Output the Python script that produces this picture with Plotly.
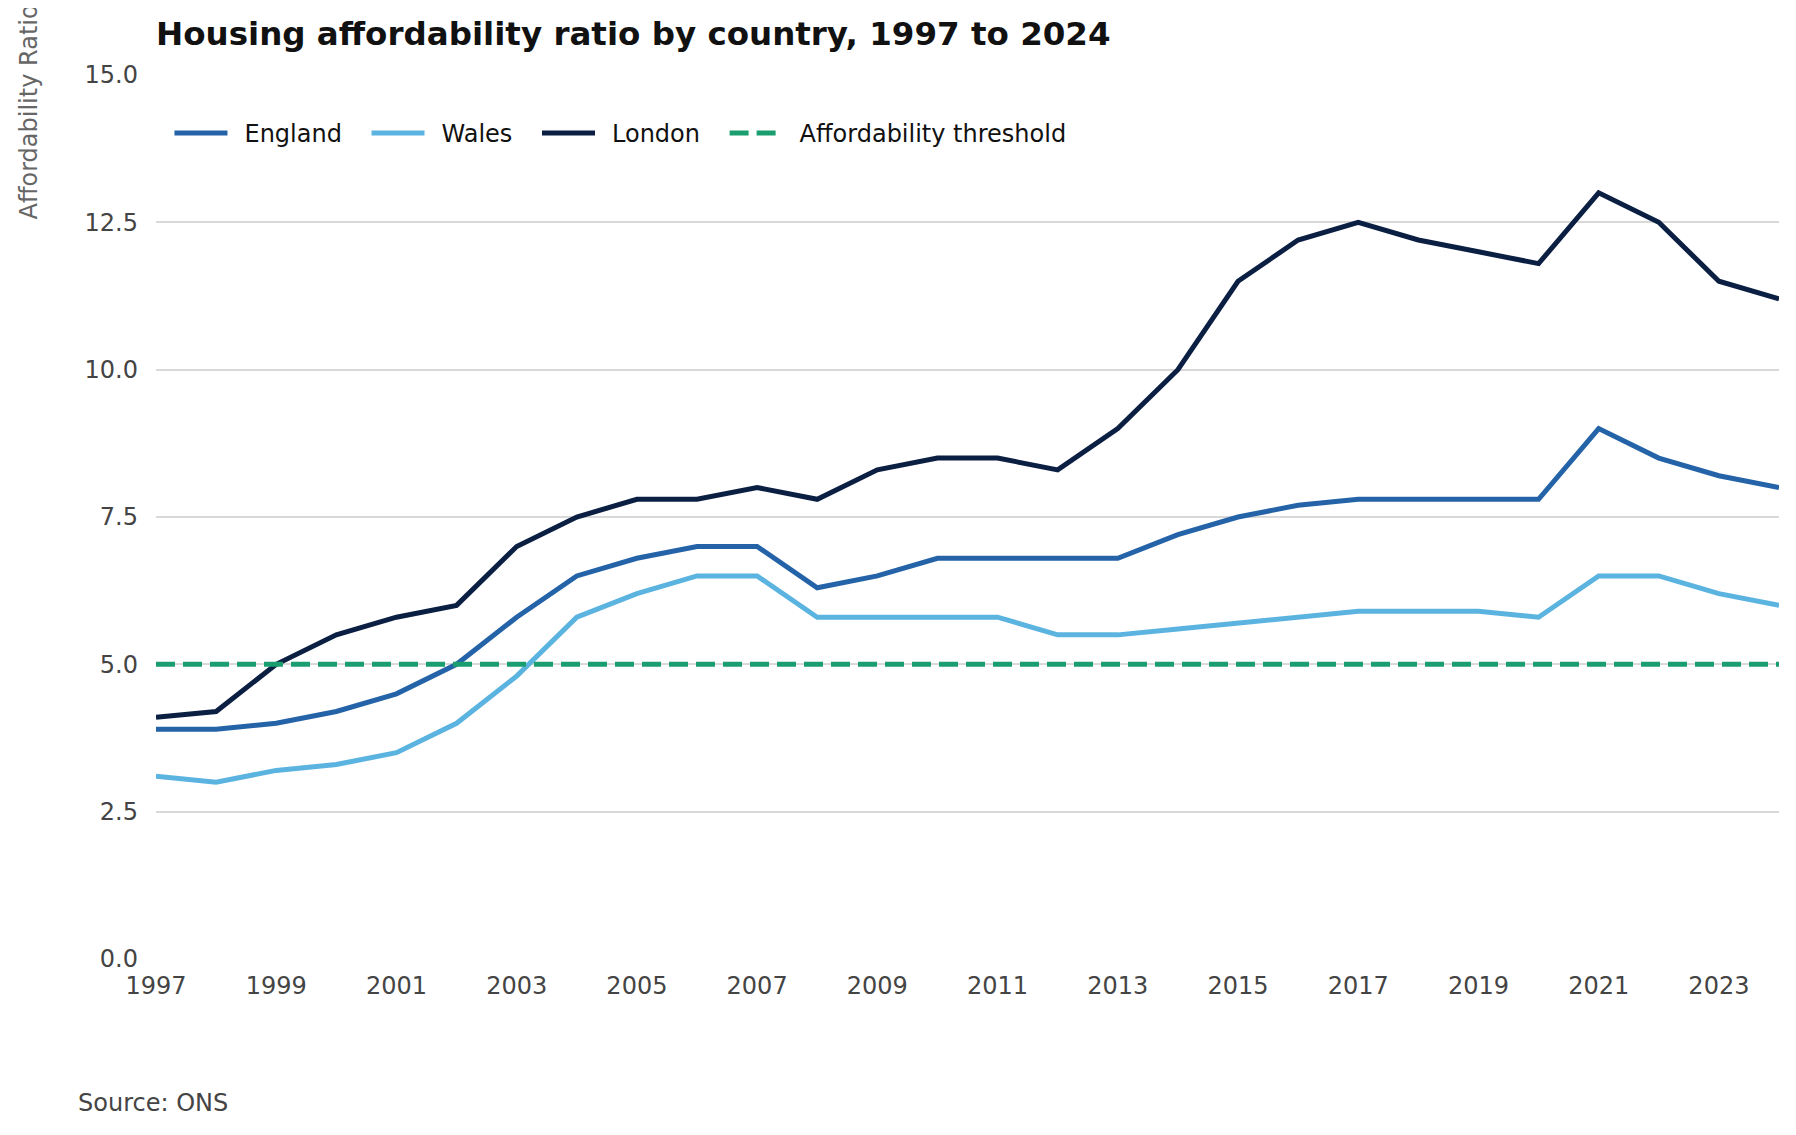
import plotly.graph_objects as go

years = list(range(1997, 2025))
england = [3.9, 3.9, 4.0, 4.2, 4.5, 5.0, 5.8, 6.5, 6.8, 7.0, 7.0, 6.3, 6.5, 6.8,
           6.8, 6.8, 6.8, 7.2, 7.5, 7.7, 7.8, 7.8, 7.8, 7.8, 9.0, 8.5, 8.2, 8.0]
wales = [3.1, 3.0, 3.2, 3.3, 3.5, 4.0, 4.8, 5.8, 6.2, 6.5, 6.5, 5.8, 5.8, 5.8,
         5.8, 5.5, 5.5, 5.6, 5.7, 5.8, 5.9, 5.9, 5.9, 5.8, 6.5, 6.5, 6.2, 6.0]
london = [4.1, 4.2, 5.0, 5.5, 5.8, 6.0, 7.0, 7.5, 7.8, 7.8, 8.0, 7.8, 8.3, 8.5,
          8.5, 8.3, 9.0, 10.0, 11.5, 12.2, 12.5, 12.2, 12.0, 11.8, 13.0, 12.5, 11.5, 11.2]
threshold = [5.0] * len(years)

series_names = ["England", "Wales", "London", "Affordability threshold"]
series_colors = ["#2563a8", "#5bb3e0", "#0b1f43", "#1a9e6f"]

title_text = "Housing affordability ratio by country, 1997 to 2024"
y_title = "Affordability Ratio"
source_text = "Source: ONS"
tick_years = list(range(1997, 2025, 2))
y_ticks = [0, 2.5, 5, 7.5, 10, 12.5, 15]

FONT = "DejaVu Sans"
W, H = 1796, 1135
ML, MR, MT, MB = 148, 25, 66.5, 184
PW, PH = W - ML - MR, H - MT - MB


def legend_label(name):
    # pad label so the spacing between key, text and next entry matches
    return "\u2002" + name + "\u2002\u00a0"


fig = go.Figure()
for name, vals, col in zip(series_names[:3], [england, wales, london], series_colors[:3]):
    fig.add_trace(go.Scatter(x=years, y=vals, mode="lines", name=legend_label(name),
                             line=dict(color=col, width=5)))
fig.add_trace(go.Scatter(x=years, y=threshold, mode="lines",
                         name=legend_label(series_names[3]),
                         line=dict(color=series_colors[3], width=5, dash="19px,8px")))

fig.update_layout(
    width=W, height=H,
    margin=dict(l=ML, r=MR, t=MT, b=MB),
    paper_bgcolor="white", plot_bgcolor="white",
    font=dict(family=FONT, size=24, color="#444444"),
    title=dict(text="<b>" + title_text + "</b>", x=ML / W, xanchor="left",
               y=1 - 26 / H, yanchor="middle",
               font=dict(family=FONT, size=32.5, color="#111111")),
    showlegend=True,
    legend=dict(orientation="h", x=0.0083, xanchor="left",
                y=1 - (125 - MT) / PH, yanchor="middle",
                font=dict(family=FONT, size=24, color="#111111"),
                bgcolor="rgba(0,0,0,0)", itemwidth=53),
    xaxis=dict(range=[1997, 2024], tickmode="array", tickvals=tick_years,
               ticktext=[str(t) for t in tick_years], showgrid=False, zeroline=False,
               showline=False, ticks="", ticklabelstandoff=10,
               tickfont=dict(size=24, color="#444444")),
    yaxis=dict(range=[0, 15], tickmode="array", tickvals=y_ticks,
               ticktext=[f"{t:.1f}" for t in y_ticks], showgrid=True,
               gridcolor="#d9d9d9", gridwidth=1.5, zeroline=False, showline=False,
               ticks="", ticklabelstandoff=17,
               tickfont=dict(size=24, color="#444444")),
    annotations=[
        dict(text=y_title, textangle=-90, xref="paper", yref="paper",
             x=-(ML - 20.5) / PW, xanchor="center", y=1 - (103.5 - MT) / PH,
             yanchor="middle", showarrow=False,
             font=dict(family=FONT, size=24, color="#666666")),
        dict(text=source_text, xref="paper", yref="paper", x=(68 - ML) / PW,
             xanchor="left", y=-(1095 - (H - MB)) / PH, yanchor="middle",
             showarrow=False, font=dict(family=FONT, size=24, color="#444444")),
    ],
)

fig.write_html("out.html")
